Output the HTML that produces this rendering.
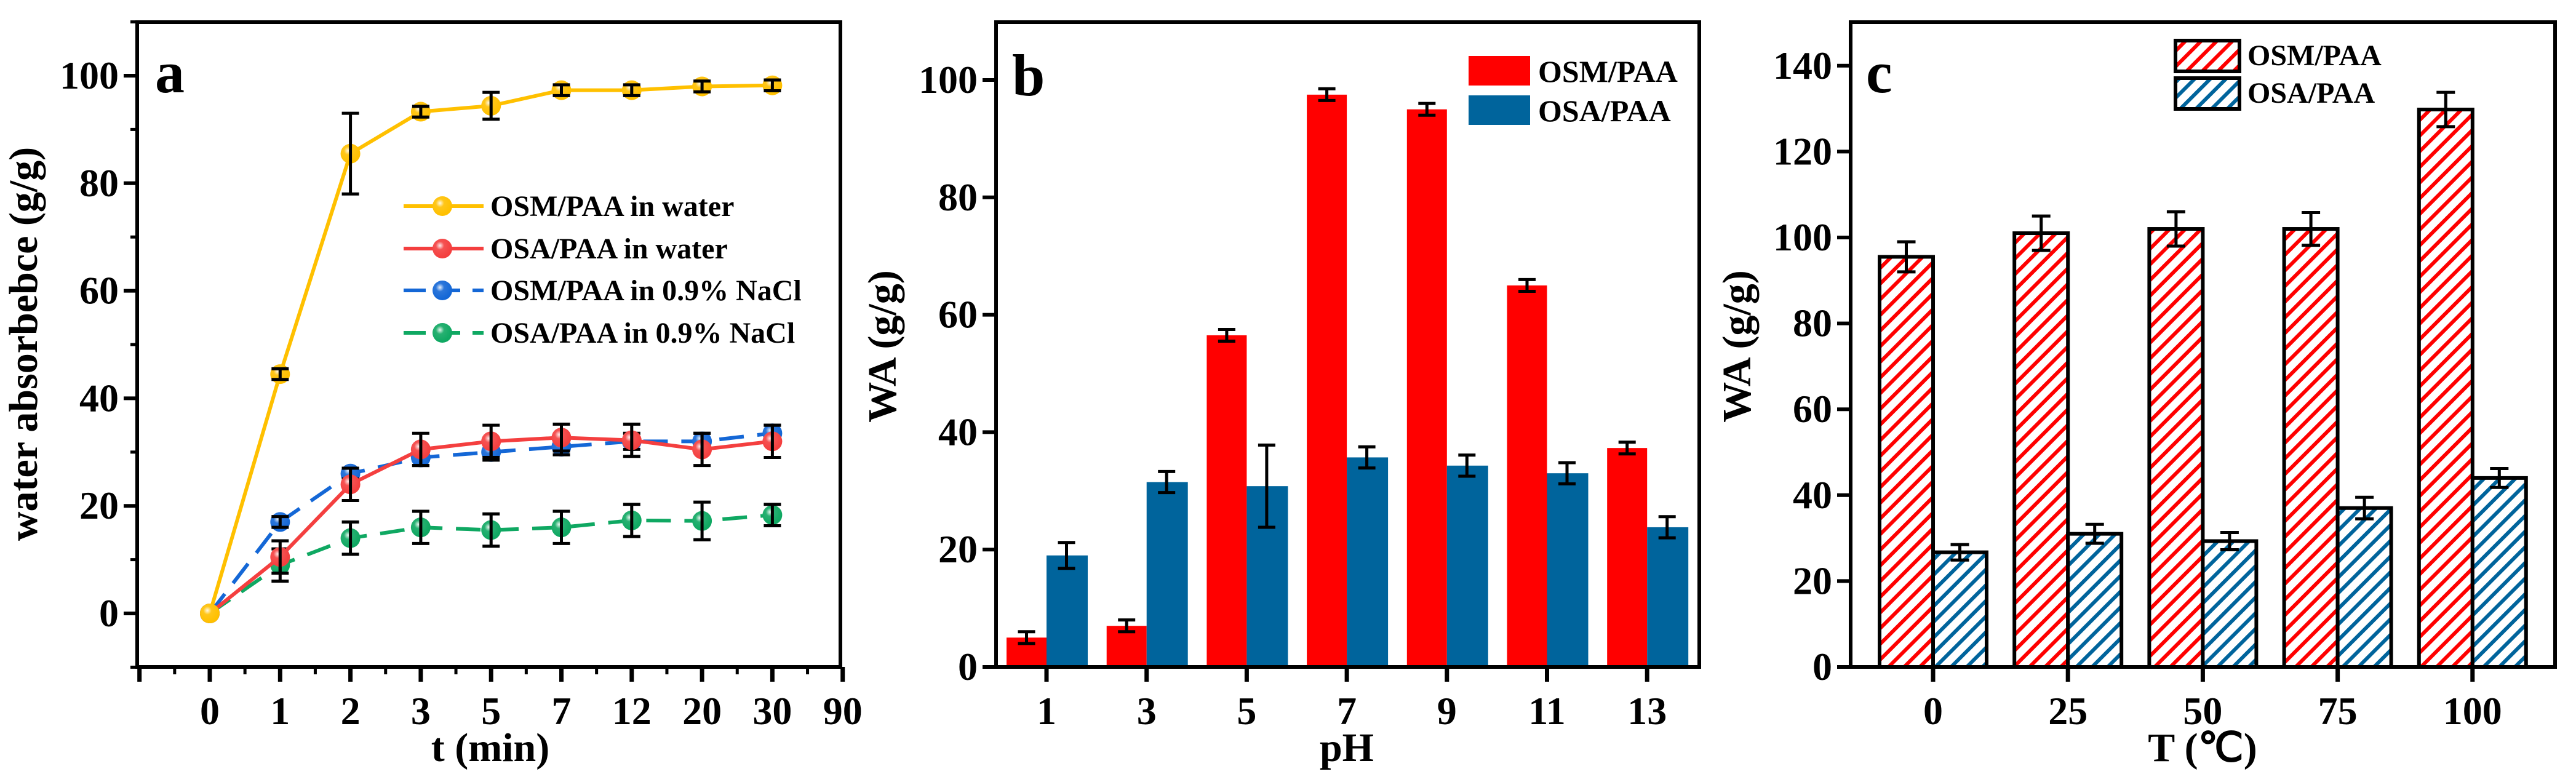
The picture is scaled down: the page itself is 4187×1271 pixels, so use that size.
<!DOCTYPE html>
<html><head><meta charset="utf-8"><style>
html,body{margin:0;padding:0;background:#fff;overflow:hidden;}
svg{display:block;font-family:"Liberation Serif",serif;font-weight:bold;}
</style></head><body>
<svg id="fig" xmlns="http://www.w3.org/2000/svg" width="4187" height="1271" viewBox="0 0 4187 1271">
<defs>
<pattern id="hr" patternUnits="userSpaceOnUse" width="18" height="18" patternTransform="rotate(45)"><rect width="18" height="18" fill="#fff"/><rect width="6" height="18" fill="#ff0000"/></pattern>
<pattern id="hb" patternUnits="userSpaceOnUse" width="18" height="18" patternTransform="rotate(45)"><rect width="18" height="18" fill="#fff"/><rect width="6" height="18" fill="#00649c"/></pattern>
<radialGradient id="shine" cx="0.38" cy="0.35" r="0.6"><stop offset="0" stop-color="#fff" stop-opacity="0.9"/><stop offset="0.35" stop-color="#fff" stop-opacity="0.1"/><stop offset="1" stop-color="#fff" stop-opacity="0"/></radialGradient>
</defs>
</svg>
<script>
// ---- Panel a data ----
const aCats = ["0","1","2","3","5","7","12","20","30","90"];
const aOsmWater = [0,44.5,85.5,93.3,94.4,97.3,97.3,98,98.2];
const aOsmWaterErr = [0,1,7.5,1,2.5,1,1,1,1];
const aOsaWater = [0,10.5,24,30.5,32,32.7,32.2,30.5,32];
const aOsaWaterErr = [0,3,3,3,3,2.5,3,3,3];
const aOsmNacl = [0,17,26,29,30,31,32,32,33.5];
const aOsmNaclErr = [0,1,1,1.5,1.5,1.5,1.5,1.5,1.5];
const aOsaNacl = [0,9,14,16,15.5,16,17.3,17.2,18.3];
const aOsaNaclErr = [0,3,3,3,3,3,3,3.5,2];
const aYTicks = [0,20,40,60,80,100];
// ---- Panel b data ----
const bCats = ["1","3","5","7","9","11","13"];
const bOsm = [5,7,56.5,97.5,95,65,37.3];
const bOsmErr = [1,1,1,1,1,1,1];
const bOsa = [19,31.5,30.8,35.7,34.3,33,23.8];
const bOsaErr = [2.2,1.8,7,1.8,1.8,1.8,1.8];
const bYTicks = [0,20,40,60,80,100];
// ---- Panel c data ----
const cCats = ["0","25","50","75","100"];
const cOsm = [95.5,101,102,102,129.8];
const cOsmErr = [3.5,4,4,3.8,4];
const cOsa = [26.7,31,29.3,37,44];
const cOsaErr = [1.8,2.2,2,2.5,2.2];
const cYTicks = [0,20,40,60,80,100,120,140];

const NS="http://www.w3.org/2000/svg";
const svg=document.getElementById('fig');
const TB=1084, TT=36, LBL=1177, TTL=1237;
function mk(tag,attrs,parent,text){const e=document.createElementNS(NS,tag);for(const k in attrs)e.setAttribute(k,attrs[k]);if(text!==undefined)e.textContent=text;(parent||svg).appendChild(e);return e;}
function grp(name){const g=mk('g',{});return g;}
function errbar(g,x,y1,y2,cw){
  mk('line',{x1:x,x2:x,y1:y1,y2:y2,stroke:'#000','stroke-width':5},g);
  mk('line',{x1:x-cw,x2:x+cw,y1:y1,y2:y1,stroke:'#000','stroke-width':5},g);
  mk('line',{x1:x-cw,x2:x+cw,y1:y2,y2:y2,stroke:'#000','stroke-width':5},g);
}
function frame(name,L,R,T,B){const g=grp(name);mk('rect',{x:L,y:T,width:R-L,height:B-T,fill:'none',stroke:'#000','stroke-width':6},g);}
function yAxis(name,L,ticks,ys,minor,title,tx,ty){
  const g=grp(name);
  ticks.forEach(v=>{const y=ys(v);mk('line',{x1:L-22,x2:L,y1:y,y2:y,stroke:'#000','stroke-width':6},g);
    const t=mk('text',{x:L-30,y:y+21,'text-anchor':'end','font-size':64},g,String(v));});
  minor.forEach(v=>{const y=ys(v);mk('line',{x1:L-11,x2:L,y1:y,y2:y,stroke:'#000','stroke-width':5},g);});
  const t=mk('text',{x:tx,y:ty,'text-anchor':'middle','font-size':66,transform:`rotate(-90 ${tx} ${ty})`},g,title);
  
}

// ================= Panel a =================
(function(){
const L=223,R=1366,T=TT,B=TB;
const xs=i=>341+(i)*114.3;
const ys=v=>997-v*8.74;
frame('panel-a-frame',L,R,T,B);
const xg=grp('panel-a-x-axis');
for(let i=-1;i<=9;i++){mk('line',{x1:xs(i),x2:xs(i),y1:B,y2:B+24,stroke:'#000','stroke-width':7},xg);
  if(i<9)mk('line',{x1:xs(i+0.5),x2:xs(i+0.5),y1:B,y2:B+12,stroke:'#000','stroke-width':5},xg);}
aCats.forEach((c,i)=>{const t=mk('text',{x:xs(i),y:LBL,'text-anchor':'middle','font-size':64},xg,c);});
const xt=mk('text',{x:797,y:TTL,'text-anchor':'middle','font-size':66},xg,'t (min)');
const minor=[];for(let v=-10;v<=110;v+=10)if(aYTicks.indexOf(v)<0)minor.push(v);
yAxis('panel-a-y-axis',L,aYTicks,ys,minor,'water absorbebce (g/g)',60,559);
const pl=mk('text',{x:252,y:150,'font-size':96},svg,'a');
const series=[
 {n:'osa-nacl',d:aOsaNacl,e:aOsaNaclErr,c:'#0fa862',dash:'40 22'},
 {n:'osm-nacl',d:aOsmNacl,e:aOsmNaclErr,c:'#1467d6',dash:'40 22'},
 {n:'osa-water',d:aOsaWater,e:aOsaWaterErr,c:'#f43f3f',dash:null},
 {n:'osm-water',d:aOsmWater,e:aOsmWaterErr,c:'#ffc000',dash:null}];
series.forEach(s=>{
  const g=grp('series-'+s.n);
  const pts=s.d.map((v,i)=>xs(i)+','+ys(v)).join(' ');
  const a={points:pts,fill:'none',stroke:s.c,'stroke-width':6};if(s.dash)a['stroke-dasharray']=s.dash;
  mk('polyline',a,g);
  s.d.forEach((v,i)=>{
    const m=mk('circle',{cx:xs(i),cy:ys(v),r:16,fill:s.c},g);
    mk('circle',{cx:xs(i),cy:ys(v),r:16,fill:'url(#shine)'},g);
    if(s.e[i]>0)errbar(g,xs(i),ys(v+s.e[i]),ys(v-s.e[i]),14);
  });
});
const lg=grp('panel-a-legend');
const labs=['OSM/PAA in water','OSA/PAA in water','OSM/PAA in 0.9% NaCl','OSA/PAA in 0.9% NaCl'];
const cols=['#ffc000','#f43f3f','#1467d6','#0fa862'];
[335,404,472,541].forEach((y,k)=>{
  const ea=grp('legend-entry');lg.appendChild(ea);
  const a={x1:656,x2:786,y1:y,y2:y,stroke:cols[k],'stroke-width':6};if(k>=2)a['stroke-dasharray']='36 20';
  mk('line',a,ea);mk('circle',{cx:719,cy:y,r:16,fill:cols[k]},ea);mk('circle',{cx:719,cy:y,r:16,fill:'url(#shine)'},ea);
  mk('text',{x:797,y:y+16,'font-size':48},ea,labs[k]);
});
})();

// ================= Panel b =================
(function(){
const L=1619,R=2762,T=TT,B=TB;
const xs=i=>1701+i*162.7;
const ys=v=>TB-v*9.54;
frame('panel-b-frame',L,R,T,B);
const xg=grp('panel-b-x-axis');
bCats.forEach((c,i)=>{mk('line',{x1:xs(i),x2:xs(i),y1:B,y2:B+24,stroke:'#000','stroke-width':7},xg);
  const t=mk('text',{x:xs(i),y:LBL,'text-anchor':'middle','font-size':64},xg,c);});
const xt=mk('text',{x:2189,y:TTL,'text-anchor':'middle','font-size':66},xg,'pH');
yAxis('panel-b-y-axis',L,bYTicks,ys,[],'WA (g/g)',1456,563);
const pl=mk('text',{x:1645,y:155,'font-size':96},svg,'b');
const bw=65;
const g1=grp('series-osm-paa'),g2=grp('series-osa-paa');
bOsm.forEach((v,i)=>{const r=mk('rect',{x:xs(i)-bw,y:ys(v),width:bw,height:B-3-ys(v),fill:'#ff0000'},g1);});
bOsa.forEach((v,i)=>{const r=mk('rect',{x:xs(i),y:ys(v),width:bw+2,height:B-3-ys(v),fill:'#00649c'},g2);});
bOsm.forEach((v,i)=>errbar(g1,xs(i)-bw/2,ys(v+bOsmErr[i]),ys(v-bOsmErr[i]),14));
bOsa.forEach((v,i)=>errbar(g2,xs(i)+bw/2,ys(v+bOsaErr[i]),ys(v-bOsaErr[i]),14));
const lg=grp('panel-b-legend');
const e1=grp('legend-entry');lg.appendChild(e1);mk('rect',{x:2387,y:91,width:100,height:48,fill:'#ff0000'},e1);mk('text',{x:2500,y:133,'font-size':50},e1,'OSM/PAA');
const e2=grp('legend-entry');lg.appendChild(e2);mk('rect',{x:2387,y:155,width:100,height:48,fill:'#00649c'},e2);mk('text',{x:2500,y:197,'font-size':50},e2,'OSA/PAA');
})();

// ================= Panel c =================
(function(){
const L=3008,R=4153,T=TT,B=TB;
const xs=i=>3142+i*219.2;
const ys=v=>TB-v*6.98;
frame('panel-c-frame',L,R,T,B);
const xg=grp('panel-c-x-axis');
cCats.forEach((c,i)=>{mk('line',{x1:xs(i),x2:xs(i),y1:B,y2:B+24,stroke:'#000','stroke-width':7},xg);
  const t=mk('text',{x:xs(i),y:LBL,'text-anchor':'middle','font-size':64},xg,c);});
const xt=mk('text',{x:3580,y:TTL,'text-anchor':'middle','font-size':66},xg,'T (℃)');
yAxis('panel-c-y-axis',L,cYTicks,ys,[],'WA (g/g)',2845,563);
const pl=mk('text',{x:3033,y:150,'font-size':96},svg,'c');
const bw=87;
const g1=grp('series-osm-paa'),g2=grp('series-osa-paa');
cOsm.forEach((v,i)=>{const r=mk('rect',{x:xs(i)-bw,y:ys(v),width:bw,height:B-ys(v),fill:'url(#hr)',stroke:'#000','stroke-width':6},g1);});
cOsa.forEach((v,i)=>{const r=mk('rect',{x:xs(i),y:ys(v),width:bw,height:B-ys(v),fill:'url(#hb)',stroke:'#000','stroke-width':6},g2);});
cOsm.forEach((v,i)=>errbar(g1,xs(i)-bw/2,ys(v+cOsmErr[i]),ys(v-cOsmErr[i]),15));
cOsa.forEach((v,i)=>errbar(g2,xs(i)+bw/2,ys(v+cOsaErr[i]),ys(v-cOsaErr[i]),15));
const lg=grp('panel-c-legend');
const e1=grp('legend-entry');lg.appendChild(e1);mk('rect',{x:3536,y:66,width:104,height:50,fill:'url(#hr)',stroke:'#000','stroke-width':6},e1);mk('text',{x:3653,y:106,'font-size':48},e1,'OSM/PAA');
const e2=grp('legend-entry');lg.appendChild(e2);mk('rect',{x:3536,y:127,width:104,height:50,fill:'url(#hb)',stroke:'#000','stroke-width':6},e2);mk('text',{x:3653,y:167,'font-size':48},e2,'OSA/PAA');
})();
</script>
</body></html>
